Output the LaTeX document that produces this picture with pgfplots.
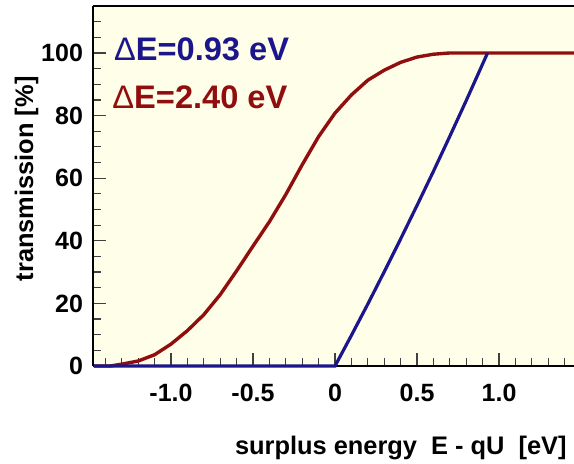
\documentclass[border=0pt]{standalone}
\usepackage{pgfplots}
\pgfplotsset{compat=1.18}
\usepackage{fontspec}
\setmainfont{Liberation Sans}
\definecolor{cream}{RGB}{255,254,232}
\definecolor{tblue}{RGB}{28,22,140}
\definecolor{tred}{RGB}{145,14,14}
\begin{document}
\begin{tikzpicture}
\useasboundingbox (-46.5pt,-48.5pt) rectangle (240.5pt,183pt);
\begin{axis}[
  scale only axis, width=240.5pt, height=180pt,
  xmin=-1.4756, xmax=1.457, ymin=0, ymax=115,
  axis x line*=bottom, axis y line*=left,
  axis background/.style={fill=cream},
  axis line style={black, line width=1.1pt},
  xtick={-1,-0.5,0,0.5,1}, xticklabels={-1.0,-0.5,0,0.5,1.0},
  minor xtick={-1.4,-1.3,...,1.45},
  ytick={0,20,40,60,80,100}, yticklabels={0,20,40,60,80,100},
  minor ytick={5,10,...,110},
  tick align=inside, major tick length=6.5pt, minor tick length=4pt,
  tick style={black!75, line width=0.6pt},
  ticklabel style={font=\bfseries\fontsize{12.5}{14}\selectfont},
  xticklabel style={yshift=-5.5pt},
  yticklabel style={xshift=-1.5pt},
  /pgf/number format/assume math mode=true,
  xlabel={surplus energy\ \ E - qU\ \ [eV]},
  ylabel={transmission [\%]},
  label style={font=\bfseries\fontsize{12.7}{15}\selectfont},
  xlabel style={at={(axis description cs:0.64,-0.2472)}, anchor=base},
  ylabel style={at={(axis description cs:-0.1247,0.52)}, anchor=base},
  clip=false,
]
\addplot[tred, line width=1.7pt] coordinates {
  (-1.47,0) (-1.37,0) (-1.30,0.6) (-1.20,1.6) (-1.10,3.6) (-1.00,7.0)
  (-0.90,11.3) (-0.80,16.4) (-0.70,22.8) (-0.60,30.4) (-0.50,38.3)
  (-0.40,46.1) (-0.30,54.8) (-0.20,64.3) (-0.10,73.3) (0.00,80.8)
  (0.10,86.6) (0.20,91.3) (0.30,94.5) (0.40,97.0) (0.50,98.7)
  (0.60,99.6) (0.70,100) (1.457,100)
};
\addplot[tblue, line width=1.6pt] coordinates {
  (-1.47,0) (0,0) (0.1,9.8) (0.2,19.8) (0.3,30.1) (0.4,40.6) (0.5,51.3)
  (0.6,62.2) (0.7,73.4) (0.8,84.8) (0.9,96.5) (0.93,100)
};
\draw[black, line width=1.1pt] (rel axis cs:0,1) -- (rel axis cs:1,1);
\node[anchor=west, text=tblue, font=\bfseries\fontsize{16.3}{19}\selectfont]
  at (axis cs:-1.39,101.3) {{\mdseries Δ}E=0.93 eV};
\node[anchor=west, text=tred, font=\bfseries\fontsize{16.3}{19}\selectfont]
  at (axis cs:-1.40,86) {{\mdseries Δ}E=2.40 eV};
\end{axis}
\end{tikzpicture}
\end{document}
